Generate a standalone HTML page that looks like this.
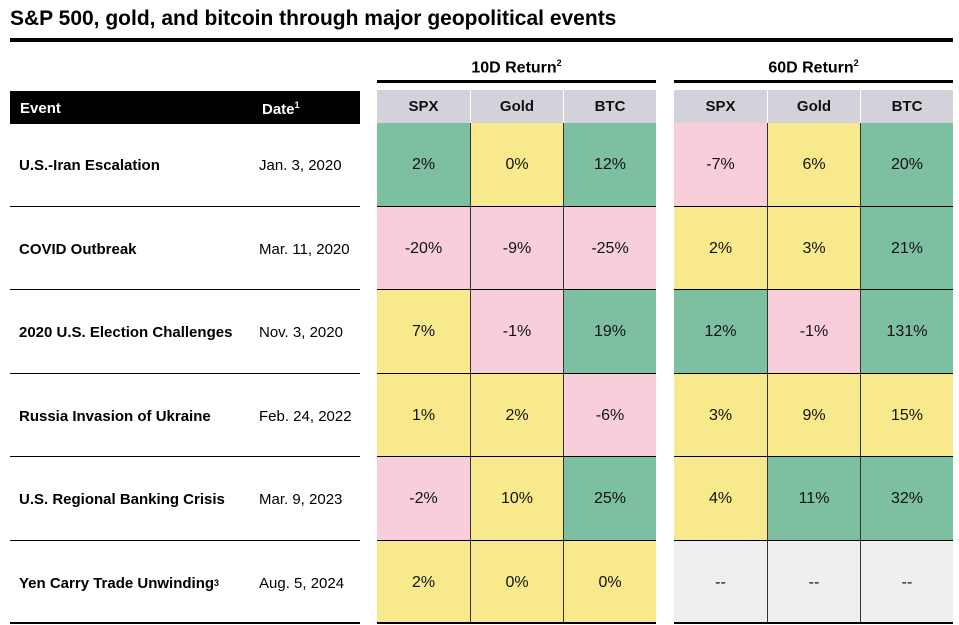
<!DOCTYPE html>
<html><head><meta charset="utf-8"><style>
body{margin:0;width:959px;height:625px;background:#fff;font-family:"Liberation Sans",sans-serif;position:relative;overflow:hidden}
.a{position:absolute;box-sizing:border-box}
.t{font-weight:bold;font-size:21px;left:10px;top:7px;color:#000}
.c{display:flex;align-items:center;justify-content:center;font-size:16px;color:#111}
.h{font-weight:bold;font-size:15px}
.ev{font-weight:bold;font-size:15px;display:flex;align-items:center}
.dt{font-size:15px;display:flex;align-items:center}
</style></head><body>
<div class="a t">S&amp;P 500, gold, and bitcoin through major geopolitical events</div>
<div class="a" style="left:10px;top:38px;width:943px;height:4px;background:#000"></div>
<div class="a" style="left:10px;top:91px;width:350px;height:33px;background:#000"></div>
<div class="a h" style="left:20px;top:100px;color:#fff">Event</div>
<div class="a h" style="left:262px;top:100px;color:#fff">Date<sup style="font-size:9px">1</sup></div>
<div id="root"></div>
<script>
const events=["U.S.-Iran Escalation","COVID Outbreak","2020 U.S. Election Challenges","Russia Invasion of Ukraine","U.S. Regional Banking Crisis","Yen Carry Trade Unwinding"];
const dates=["Jan. 3, 2020","Mar. 11, 2020","Nov. 3, 2020","Feb. 24, 2022","Mar. 9, 2023","Aug. 5, 2024"];
const assets=["SPX","Gold","BTC"];
const ret10=[[2,0,12],[-20,-9,-25],[7,-1,19],[1,2,-6],[-2,10,25],[2,0,0]];
const ret60=[[-7,6,20],[2,3,21],[12,-1,131],[3,9,15],[4,11,32],[null,null,null]];
// shading category: g=green, y=yellow, p=pink, n=n/a
const shade10=[["g","y","g"],["p","p","p"],["y","p","g"],["y","y","p"],["p","y","g"],["y","y","y"]];
const shade60=[["p","y","g"],["y","y","g"],["g","p","g"],["y","y","y"],["y","g","g"],["n","n","n"]];
const root=document.getElementById('root');
const rowTop=123,rowH=83.5;
const palette={g:'#7dbfa1',y:'#f8e98c',p:'#f8ceda',n:'#efefef'};
function mk(cls,style,txt,name){const d=document.createElement('div');d.className='a '+cls;d.style.cssText=style;if(txt!==undefined)d.innerHTML=txt;


root.appendChild(d);return d;}
events.forEach((e,i)=>{const y=rowTop+i*rowH;
mk('ev',`left:19px;top:${y+1}px;height:${rowH}px`,i==5?e+'<sup style="font-size:9px">3</sup>':e,'event-label');
mk('dt',`left:259px;top:${y+1}px;height:${rowH}px`,dates[i],'date-label');
mk('',`left:10px;top:${y+rowH-1}px;width:350px;height:1px;background:#000`,undefined,'row-divider');
});
[[ret10,shade10,377,'10D Return'],[ret60,shade60,674,'60D Return']].forEach(([data,sh,x0,lab])=>{
const w=279,cw=w/3;
mk('h',`left:${x0}px;top:58px;width:${w}px;text-align:center;font-size:16px`,lab+'<sup style="font-size:9px">2</sup>',lab.startsWith('10')?'return-10d-header':'return-60d-header');
mk('',`left:${x0}px;top:80px;width:${w}px;height:3px;background:#000`,undefined,'group-rule');
assets.forEach((a,j)=>{mk('c h',`left:${x0+j*cw}px;top:90px;width:${cw}px;height:33px;background:#d3d2da;border-left:${j?'1px solid #fff':'none'}`,a,'asset-header');});
data.forEach((r,i)=>r.forEach((v,j)=>{const y=rowTop+i*rowH;
mk('c',`left:${x0+j*cw}px;top:${y}px;width:${cw}px;height:${rowH}px;background:${palette[sh[i][j]]};border-bottom:1px solid #000;border-left:${j?'1px solid #333':'none'};padding-top:2px`,v===null?'--':v+'%','return-cell');}));
mk('',`left:${x0}px;top:622px;width:${w}px;height:2px;background:#000`,undefined,'bottom-rule');
});
mk('',`left:10px;top:622px;width:350px;height:2px;background:#000`,undefined,'bottom-rule');
</script>
</body></html>
